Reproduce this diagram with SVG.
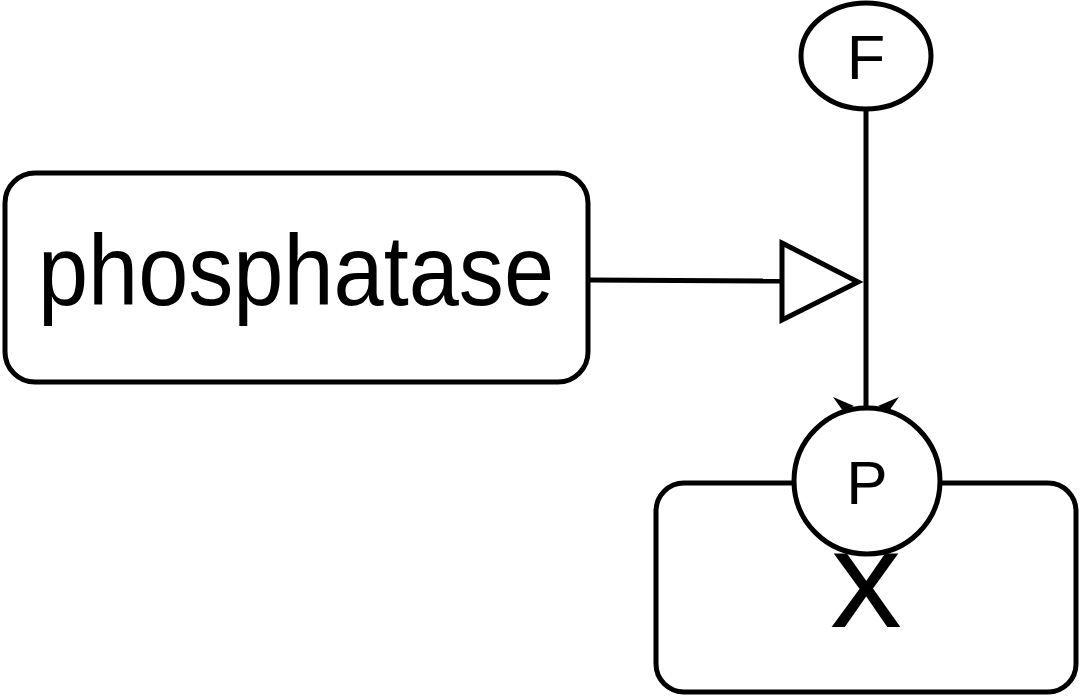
<svg xmlns="http://www.w3.org/2000/svg" width="1080" height="696" viewBox="0 0 1080 696">
  <style>
    .shape { fill: #ffffff; stroke: #000000; stroke-width: 5; }
    .edge { fill: none; stroke: #000000; stroke-width: 5; }
    .barb { fill: #000000; stroke: none; }
    .label { font-family: "Liberation Sans", "DejaVu Sans", sans-serif; fill: #000000; text-anchor: middle; }
  </style>
  <rect width="1080" height="696" fill="#ffffff"/>

  <!-- macromolecule X -->
  <g id="node-x">
    <rect class="shape" x="656" y="483" width="420" height="209" rx="28" ry="28"/>
    <text class="label" x="866" y="626" font-size="104" stroke="#000000" stroke-width="2">X</text>
  </g>

  <!-- connectors -->
  <g id="connectors">
    <line class="edge" x1="589" y1="280" x2="782" y2="281"/>
    <line class="edge" x1="866" y1="110" x2="866" y2="420"/>
    <polygon class="shape" points="782,243 858,282 782,320"/>
    <polygon class="barb" points="833,397 854,406 843,411"/>
    <polygon class="barb" points="899,397 878,406 889,411"/>
  </g>

  <!-- state variable P -->
  <g id="node-p">
    <circle class="shape" cx="867" cy="481" r="73"/>
    <text class="label" x="867" y="504" font-size="62">P</text>
  </g>

  <!-- F -->
  <g id="node-f">
    <ellipse class="shape" cx="866" cy="56" rx="65" ry="53"/>
    <text class="label" x="866" y="79" font-size="63">F</text>
  </g>

  <!-- phosphatase -->
  <g id="node-phosphatase">
    <rect class="shape" x="5" y="173" width="583" height="209" rx="30" ry="30"/>
    <text class="label" x="296" y="305" font-size="100" textLength="516" lengthAdjust="spacingAndGlyphs">phosphatase</text>
  </g>
</svg>
